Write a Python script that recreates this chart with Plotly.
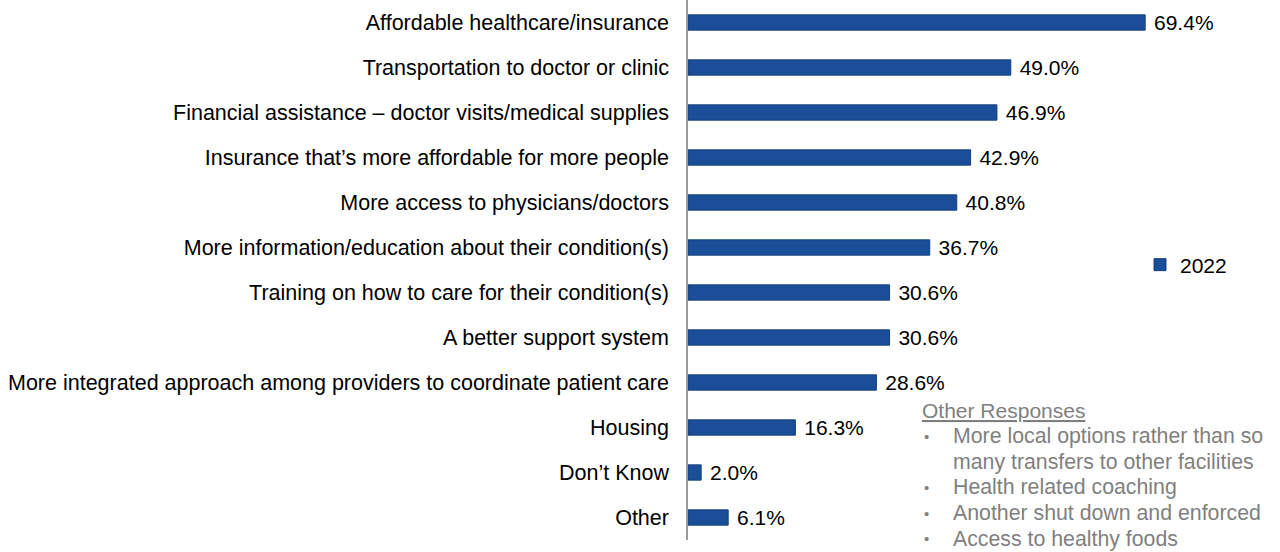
import plotly.graph_objects as go

categories = [
    "Affordable healthcare/insurance",
    "Transportation to doctor or clinic",
    "Financial assistance – doctor visits/medical supplies",
    "Insurance that’s more affordable for more people",
    "More access to physicians/doctors",
    "More information/education about their condition(s)",
    "Training on how to care for their condition(s)",
    "A better support system",
    "More integrated approach among providers to coordinate patient care",
    "Housing",
    "Don’t Know",
    "Other",
]
values_2022 = [69.4, 49.0, 46.9, 42.9, 40.8, 36.7, 30.6, 30.6, 28.6, 16.3, 2.0, 6.1]
series_name = "2022"

other_title = "Other Responses"
other_lines = [
    ("•", "More local options rather than so"),
    ("", "many transfers to other facilities"),
    ("•", "Health related coaching"),
    ("•", "Another shut down and enforced"),
    ("•", "Access to healthy foods"),
]

FONT = "Liberation Sans, Arial, sans-serif"
BAR = "#1B4E98"
L, R, T, B = 688, 65, 0, 12
PW = 1280 - L - R
PH = 552 - T - B

fig = go.Figure()
fig.add_trace(go.Bar(
    y=categories,
    x=values_2022,
    orientation="h",
    name=series_name,
    marker=dict(color=BAR, line=dict(color="#163F7C", width=1)),
    text=["\u00a0" + f"{v:.1f}%" for v in values_2022],
    textposition="outside",
    constraintext="none",
    textfont=dict(family=FONT, size=21, color="#000000"),
    cliponaxis=False,
    showlegend=True,
))

fig.update_layout(
    width=1280, height=552,
    margin=dict(l=L, r=R, t=T, b=B, autoexpand=False),
    paper_bgcolor="white", plot_bgcolor="white",
    bargap=0.66,
    font=dict(family=FONT, size=21, color="#000000"),
    xaxis=dict(range=[0, 80], showgrid=False, zeroline=False, showticklabels=False,
               showline=False, fixedrange=True, automargin=False),
    yaxis=dict(autorange="reversed", showgrid=False, zeroline=False, automargin=False,
               showline=True, linecolor="#9a9a9a", linewidth=1.5,
               ticks="", ticklabelstandoff=13,
               tickfont=dict(family=FONT, size=21.5, color="#000000")),
    legend=dict(xref="container", yref="container", x=1140 / 1280, y=1 - 265 / 552,
                xanchor="left", yanchor="middle", font=dict(family=FONT, size=21, color="#000000"),
                bgcolor="rgba(0,0,0,0)", itemwidth=30),
)

GRAY = "#7f7f7f"
fig.add_annotation(xref="paper", yref="paper", x=(920 - L) / PW,
                   y=1 - (410 - T) / PH, xanchor="left", yanchor="middle",
                   text=f"<u>{other_title}</u>", showarrow=False,
                   font=dict(family=FONT, size=21, color=GRAY))
for i, (b, t) in enumerate(other_lines):
    ypx = 436 + i * 25.7
    yp = 1 - (ypx - T) / PH
    if b:
        fig.add_annotation(xref="paper", yref="paper", x=(922 - L) / PW, y=yp,
                           xanchor="left", yanchor="middle", text=b, showarrow=False,
                           font=dict(family=FONT, size=15, color=GRAY))
    fig.add_annotation(xref="paper", yref="paper", x=(951 - L) / PW, y=yp,
                       xanchor="left", yanchor="middle", text=t, showarrow=False,
                       font=dict(family=FONT, size=21.3, color=GRAY))

fig.write_html(
    "out.html",
    config={"displayModeBar": False},
    post_script="document.body.style.margin='0';document.body.style.overflow='hidden';",
)
